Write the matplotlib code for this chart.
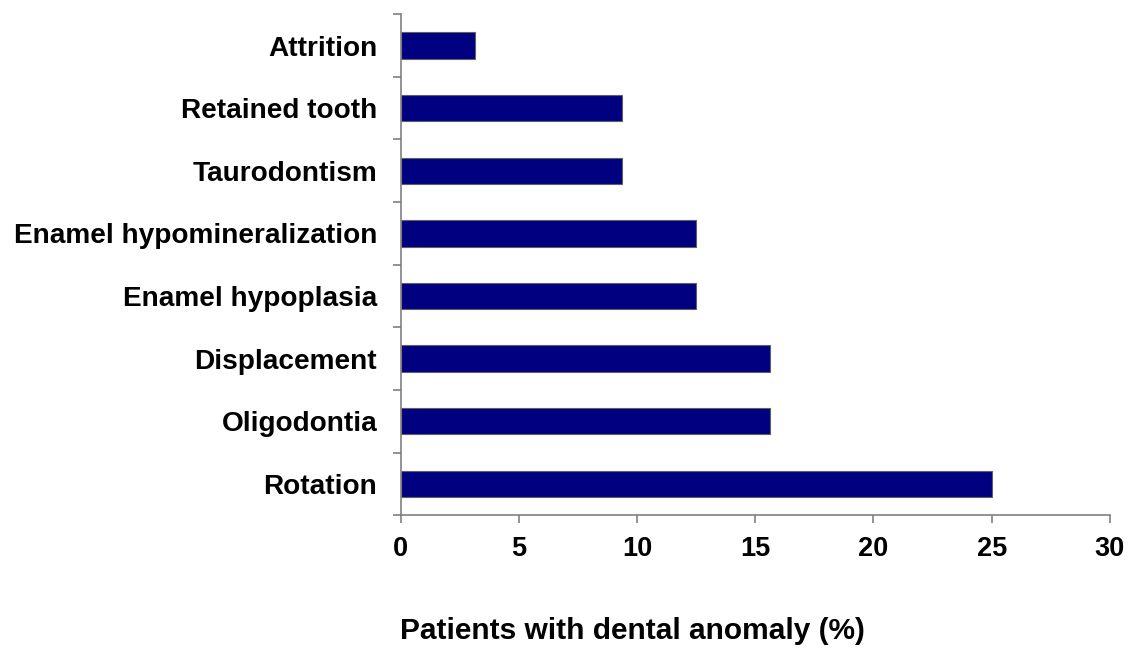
import matplotlib
matplotlib.use("Agg")
from matplotlib import pyplot as plt
import numpy as np

categories = ["Rotation", "Oligodontia", "Displacement", "Enamel hypoplasia",
              "Enamel hypomineralization", "Taurodontism", "Retained tooth", "Attrition"]
percentages = [25.0, 15.625, 15.625, 12.5, 12.5, 9.375, 9.375, 3.125]
x_ticks = [0, 5, 10, 15, 20, 25, 30]

plt.rcParams['font.family'] = ['Liberation Sans', 'DejaVu Sans']
plt.rcParams['font.weight'] = 'bold'

fig = plt.figure(figsize=(11.29, 6.48), dpi=100)
ax = fig.add_axes([0.355, 0.205, 0.628, 0.773])

pos = np.arange(len(categories))
ax.barh(pos, percentages, height=0.42, color='#000080', edgecolor='#606060', linewidth=0.8)

ax.set_xlim(0, 30)
ax.set_ylim(-0.5, len(categories) - 0.5)
ax.set_xticks(x_ticks)
ax.set_xticklabels([str(t) for t in x_ticks], fontsize=19.5, fontweight='bold')
ax.set_yticks(pos)
ax.set_yticklabels(categories, fontsize=20.2, fontweight='bold')
ax.set_yticks(np.arange(len(categories) + 1) - 0.5, minor=True)
ax.tick_params(axis='y', which='major', length=0, pad=17)
ax.tick_params(axis='y', which='minor', length=6, width=1.2, color='#808080', direction='out')
ax.tick_params(axis='x', which='major', length=6, width=1.2, color='#808080', direction='out', pad=9)

for s in ['top', 'right']:
    ax.spines[s].set_visible(False)
for s in ['left', 'bottom']:
    ax.spines[s].set_color('#808080')
    ax.spines[s].set_linewidth(1.2)

fig.text(0.56, 0.004, "Patients with dental anomaly (%)", ha='center', va='bottom',
         fontsize=21.5, fontweight='bold')

fig.savefig("out.png", dpi=100)
